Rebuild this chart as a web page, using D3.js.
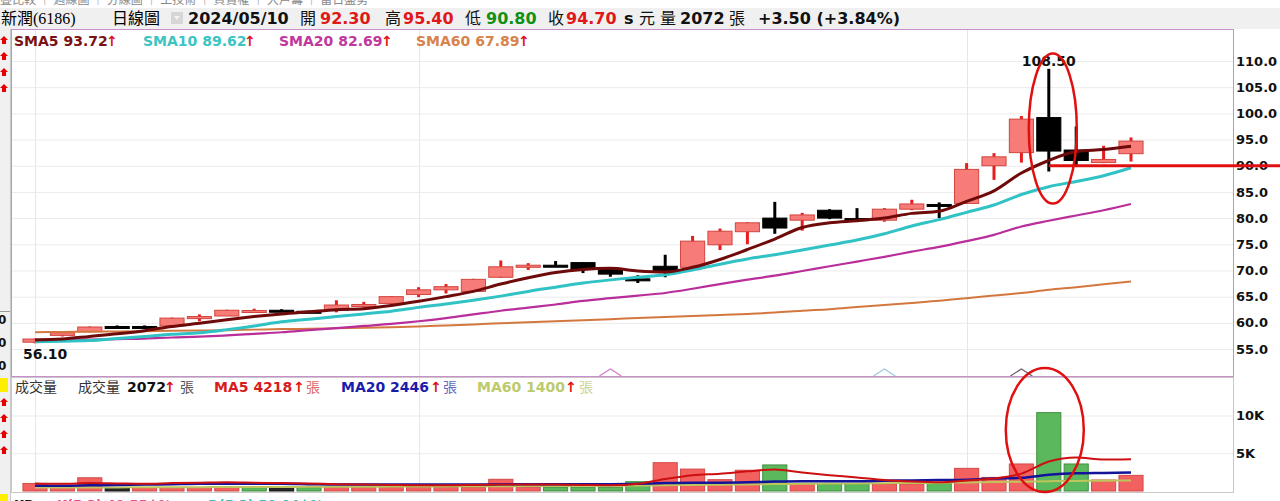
<!DOCTYPE html>
<html>
<head>
<meta charset="utf-8">
<script src="https://cdn.jsdelivr.net/npm/d3@7"></script>
<style>
  body { margin: 0; background: #fff; overflow: hidden; }
  svg { display: block; }
</style>
</head>
<body>
<div id="chart"></div>
<script>
// trading days shown, 2024/03/12 .. 2024/05/10
var dates = ["03/12","03/13","03/14","03/15","03/18","03/19","03/20","03/21","03/22","03/25",
  "03/26","03/27","03/28","03/29","04/01","04/02","04/03","04/08","04/09","04/10",
  "04/11","04/12","04/15","04/16","04/17","04/18","04/19","04/22","04/23","04/24",
  "04/25","04/26","04/29","04/30","05/02","05/03","05/06","05/07","05/08","05/09","05/10"];

var openP  = [56.3,57.6,58.3,59.3,59.3,59.4,60.8,61.3,62.2,62.4,62.2,62.4,63.1,63.7,65.4,66.3,66.0,68.7,70.6,71.0,
  71.5,70.2,68.4,70.8,70.6,74.9,77.4,80.0,79.6,81.5,79.9,79.6,81.7,82.6,82.8,90.0,92.5,99.2,93.0,90.6,92.3];
var highP  = [57.0,58.3,59.3,59.5,59.5,61.0,61.6,62.5,62.7,62.6,62.3,64.3,64.0,65.1,66.8,67.4,68.4,71.9,71.4,71.8,
  71.6,70.3,69.1,73.0,76.6,78.0,79.2,83.1,81.0,81.7,81.9,81.9,83.5,83.0,90.5,92.4,99.5,108.5,97.5,93.8,95.4];
var lowP   = [56.1,57.4,58.2,59.0,59.0,59.3,60.3,61.3,61.9,62.1,62.0,62.0,62.9,63.6,64.9,65.6,65.9,68.6,70.1,70.8,
  69.5,68.8,67.6,68.7,70.5,73.9,75.0,77.0,77.6,79.8,79.4,79.3,81.5,80.0,82.7,87.3,90.6,88.9,89.8,90.5,90.8];
var closeP = [56.9,58.1,59.2,59.2,59.2,60.9,61.2,62.4,62.35,62.3,62.1,63.4,63.5,65.0,66.3,66.9,68.3,70.7,71.0,70.9,
  70.2,69.3,68.2,69.9,75.6,77.5,79.1,78.1,80.6,80.0,79.7,81.7,82.7,82.4,89.3,91.7,98.9,92.8,91.0,91.2,94.7];

var sma5  = [56.7,56.9,57.4,57.9,58.5,59.3,59.9,60.6,61.2,61.7,62.1,62.5,62.7,63.3,64.1,65.0,66.0,67.4,68.6,69.6,
  70.2,70.4,69.9,69.7,70.6,72.1,74.0,76.0,78.2,79.1,79.5,80.0,80.9,81.3,83.2,85.2,88.6,91.0,92.7,93.1,93.72];
var sma10 = [56.4,56.5,56.6,57.0,57.4,57.8,58.1,58.7,59.4,60.2,60.7,61.2,61.7,62.2,62.95,63.6,64.3,65.1,66.0,66.8,
  67.6,68.2,68.7,69.2,70.1,71.2,72.2,73.0,73.9,74.85,75.8,77.0,78.5,79.7,81.1,82.5,84.5,86.0,87.0,88.1,89.62];
var sma20 = [56.6,56.7,56.8,56.9,57.0,57.2,57.35,57.6,57.9,58.2,58.6,59.0,59.4,59.8,60.3,60.9,61.6,62.3,62.9,63.5,
  64.2,64.7,65.2,65.7,66.5,67.4,68.25,69.0,69.9,70.8,71.7,72.6,73.6,74.5,75.6,76.8,78.4,79.5,80.5,81.5,82.69];
var sma60 = [58.2,58.25,58.3,58.35,58.4,58.5,58.55,58.6,58.7,58.8,58.85,58.95,59.05,59.15,59.3,59.5,59.7,59.9,60.1,60.3,
  60.5,60.7,60.9,61.1,61.3,61.5,61.7,61.95,62.3,62.6,63.0,63.4,63.8,64.2,64.7,65.2,65.7,66.3,66.8,67.35,67.89];

var volume = [1000,450,1750,450,450,450,450,450,450,450,450,500,500,500,500,500,500,1550,500,500,
  500,500,1230,3750,2900,1500,2750,3450,950,950,950,950,950,1000,3000,1800,3580,10380,3580,1460,2072];
// r = up day, g = down day, k = unchanged
var volColor = ["r","r","r","k","r","r","r","r","g","k","g","r","r","r","r","r","r","r","r","g",
  "g","g","g","r","r","r","r","g","r","g","g","r","r","g","r","r","r","g","g","r","r"];
var volMa5  = [1000,950,1050,1000,950,1050,1100,1150,1100,1050,1000,900,850,800,750,750,800,850,850,850,
  800,750,950,1600,2100,2300,2600,2850,2450,2100,1800,1450,1250,1150,1400,1650,2300,3900,4450,4160,4218];
var volMa20 = [700,700,750,800,850,900,950,950,950,950,900,850,850,850,850,850,850,900,900,900,
  900,900,950,1050,1100,1100,1150,1250,1300,1300,1300,1350,1400,1450,1500,1650,1750,2150,2350,2400,2446];
var volMa60 = [450,460,470,480,490,500,510,520,530,540,550,560,570,580,600,610,620,640,650,660,
  680,700,720,760,800,830,870,920,950,980,1000,1030,1060,1090,1140,1180,1230,1300,1340,1370,1400];

var priceTicks = [55,60,65,70,75,80,85,90,95,100,105,110];
var volTicks = [5000,10000];
var volTickLabels = ["5K","10K"];
var monthLines = [0,14,34];
var markers = [{i:21, color:"#d77bc8"}, {i:31, color:"#9cc8e0"}, {i:36, color:"#6a5a6a"}];

var W = 1280, H = 501;
var svg = d3.select("#chart").append("svg").attr("width", W).attr("height", H);

var num = "DejaVu Sans, Verdana, sans-serif";
var cjk = "Noto Sans CJK TC, sans-serif";

// page chrome
svg.append("rect").attr("x",0).attr("y",8).attr("width",W).attr("height",21).attr("fill","#f0f0f0");
svg.append("rect").attr("x",0).attr("y",29).attr("width",10).attr("height",H-29).attr("fill","#f0f0f0");
svg.append("line").attr("x1",10.5).attr("x2",10.5).attr("y1",29).attr("y2",H).attr("stroke","#c8c8c8");
svg.append("text").attr("x",0).attr("y",4).attr("font-family",cjk).attr("font-size",12).attr("fill","#888")
  .text("疊比較 │ 週線圖 │ 分線圖 │ 工技術 │ 買賣權 │ 大戶籌 │ 當日盤勢");

var x = d3.scaleBand().domain(d3.range(dates.length)).range([21.3, 1144.7]).paddingInner(0.12).paddingOuter(0.06);
function xc(i) { return x(i) + x.bandwidth() / 2; }
var y = d3.scaleLinear().domain([55, 110]).range([349, 61]);
var yv = d3.scaleLinear().domain([0, 10000]).range([491, 415.5]);

var left = 11, right = 1233;

// ---------- header ----------
var hdr = svg.append("text").attr("y", 24).attr("font-size", 16);
hdr.append("tspan").attr("x", 1).attr("font-family", cjk).text("新潤");
hdr.append("tspan").attr("font-family", "Liberation Serif, serif").text("(6186)");
svg.append("text").attr("x",112).attr("y",24).attr("font-family",cjk).attr("font-size",16).text("日線圖");
svg.append("rect").attr("x",171).attr("y",12).attr("width",12).attr("height",12).attr("fill","#d6d6d6");
svg.append("path").attr("d","M174,16 L180,16 L177,20 Z").attr("fill","#f4f4f4");

function htext(xp, t, col, bold, fam, size) {
  svg.append("text").attr("x", xp).attr("y", 24).attr("font-family", fam || num)
    .attr("font-size", size || 16).attr("font-weight", bold ? "bold" : "normal")
    .attr("fill", col).text(t);
}
htext(188, "2024/05/10", "#111", true);
htext(300, "開", "#111", false, cjk);
htext(320, "92.30", "#e01818", true);
htext(385, "高", "#111", false, cjk);
htext(403, "95.40", "#e01818", true);
htext(465, "低", "#111", false, cjk);
htext(486, "90.80", "#129012", true);
htext(548, "收", "#111", false, cjk);
htext(566, "94.70", "#e01818", true);
htext(624, "s", "#111", true);
htext(639, "元", "#111", false, cjk);
htext(660, "量", "#111", false, cjk);
htext(680, "2072", "#111", true);
htext(729, "張", "#111", false, cjk);
htext(758, "+3.50 (+3.84%)", "#111", true);

// ---------- price panel ----------
var price = svg.append("g");
price.append("rect").attr("x", left).attr("y", 29).attr("width", right - left).attr("height", 347).attr("fill", "#fff");

price.append("g").attr("transform", "translate(" + left + ",0)")
  .call(d3.axisLeft(y).tickValues(priceTicks).tickSize(-(right - left)).tickFormat(""))
  .call(function(g){ g.select(".domain").remove(); g.selectAll("line").attr("stroke", "#ebebeb"); });

price.selectAll("line.month").data(monthLines).enter().append("line")
  .attr("x1", function(d){ return Math.round(xc(d)) + 0.5; }).attr("x2", function(d){ return Math.round(xc(d)) + 0.5; })
  .attr("y1", 29).attr("y2", 376).attr("stroke", "#e6e6e6");

var candles = d3.range(dates.length).map(function(i){
  return { i: i, o: openP[i], h: highP[i], l: lowP[i], c: closeP[i] };
});
function up(d) { return d.c >= d.o; }

price.selectAll("line.wick").data(candles).enter().append("line")
  .attr("x1", function(d){ return xc(d.i); }).attr("x2", function(d){ return xc(d.i); })
  .attr("y1", function(d){ return y(d.h); }).attr("y2", function(d){ return y(d.l); })
  .attr("stroke", function(d){ return up(d) ? "#e81c1c" : "#000"; })
  .attr("stroke-width", 3);

price.selectAll("rect.body").data(candles).enter().append("rect")
  .attr("x", function(d){ return x(d.i); })
  .attr("width", x.bandwidth())
  .attr("y", function(d){ return y(Math.max(d.o, d.c)); })
  .attr("height", function(d){ return Math.max(2, Math.abs(y(d.o) - y(d.c))); })
  .attr("fill", function(d){ return up(d) ? "#f77b76" : "#000"; })
  .attr("stroke", function(d){ return up(d) ? "#d2453f" : "#000"; })
  .attr("stroke-width", 1);

var line = d3.line().x(function(d, i){ return xc(i); }).y(function(d){ return y(d); }).curve(d3.curveMonotoneX);
[[sma60, "#d4773f", 2], [sma20, "#b92e9b", 2.2], [sma10, "#30c2c4", 3], [sma5, "#6e0a0a", 3]].forEach(function(s){
  price.append("path").attr("d", line(s[0])).attr("fill", "none").attr("stroke", s[1]).attr("stroke-width", s[2]);
});

// small markers at panel bottom
price.selectAll("path.mk").data(markers).enter().append("path")
  .attr("d", function(d){ var c = xc(d.i); return "M" + (c - 11) + ",376 L" + c + ",369 L" + (c + 11) + ",376"; })
  .attr("fill", "none").attr("stroke", function(d){ return d.color; }).attr("stroke-width", 1.2);

price.append("rect").attr("x", left + 0.5).attr("y", 29.5).attr("width", right - left).attr("height", 347)
  .attr("fill", "none").attr("stroke", "#c98fcb");

// price axis
svg.append("g").attr("transform", "translate(1236,0)")
  .call(d3.axisRight(y).tickValues(priceTicks).tickSize(0).tickPadding(0).tickFormat(d3.format(".1f")))
  .call(function(g){
    g.select(".domain").remove();
    g.selectAll("text").attr("font-family", num).attr("font-size", 13).attr("font-weight", "bold").attr("fill", "#111");
  });

// high / low labels
var iHi = d3.maxIndex(highP), iLo = d3.minIndex(lowP);
svg.append("text").attr("x", xc(iHi)).attr("y", y(highP[iHi]) - 3).attr("text-anchor", "middle")
  .attr("font-family", num).attr("font-size", 14).attr("font-weight", "bold").attr("fill", "#111")
  .text(d3.format(".2f")(highP[iHi]));
svg.append("text").attr("x", x(iLo)).attr("y", y(lowP[iLo]) + 16)
  .attr("font-family", num).attr("font-size", 14).attr("font-weight", "bold").attr("fill", "#111")
  .text(d3.format(".2f")(lowP[iLo]));

// legends
function legend(yy, items) {
  items.forEach(function(it){
    var t = svg.append("text").attr("x", it[0]).attr("y", yy).attr("font-size", it[4] || 14);
    t.append("tspan").attr("font-family", it[3] ? cjk : num).attr("font-weight", it[3] ? "normal" : "bold")
      .attr("fill", it[2]).text(it[1]);
  });
}
legend(46, [
  [14, "SMA5 93.72", "#7a1212"], [106, "↑", "#e01010"],
  [143, "SMA10 89.62", "#3cc4c4"], [244, "↑", "#e01010"],
  [279, "SMA20 82.69", "#c0379d"], [381, "↑", "#e01010"],
  [416, "SMA60 67.89", "#d8834c"], [518, "↑", "#e01010"]
]);

// annotations
svg.append("line").attr("x1", xc(37)).attr("x2", W).attr("y1", y(90)).attr("y2", y(90))
  .attr("stroke", "#e01010").attr("stroke-width", 3);
svg.append("ellipse").attr("cx", xc(37) + 4).attr("cy", y(97.1)).attr("rx", 24).attr("ry", 75)
  .attr("fill", "none").attr("stroke", "#e01010").attr("stroke-width", 2.5);

// ---------- volume panel ----------
var vol = svg.append("g");
vol.append("g").attr("transform", "translate(" + left + ",0)")
  .call(d3.axisLeft(yv).tickValues(volTicks).tickSize(-(right - left)).tickFormat(""))
  .call(function(g){ g.select(".domain").remove(); g.selectAll("line").attr("stroke", "#ebebeb"); });
vol.selectAll("line.month").data(monthLines).enter().append("line")
  .attr("x1", function(d){ return Math.round(xc(d)) + 0.5; }).attr("x2", function(d){ return Math.round(xc(d)) + 0.5; })
  .attr("y1", 378).attr("y2", 492).attr("stroke", "#e6e6e6");

var fillV = { r: "#f36060", g: "#5cb85c", k: "#2a2a2a" };
var strokeV = { r: "#d24a46", g: "#3f8f3f", k: "#111" };
vol.selectAll("rect.v").data(volume).enter().append("rect")
  .attr("x", function(d, i){ return x(i); }).attr("width", x.bandwidth())
  .attr("y", function(d){ return yv(d); }).attr("height", function(d){ return yv(0) - yv(d); })
  .attr("fill", function(d, i){ return fillV[volColor[i]]; })
  .attr("stroke", function(d, i){ return strokeV[volColor[i]]; }).attr("stroke-width", 1);

var vline = d3.line().x(function(d, i){ return xc(i); }).y(function(d){ return yv(d); }).curve(d3.curveMonotoneX);
[[volMa60, "#bcc65c", 2], [volMa20, "#14149a", 2.5], [volMa5, "#cc1010", 2]].forEach(function(s){
  vol.append("path").attr("d", vline(s[0])).attr("fill", "none").attr("stroke", s[1]).attr("stroke-width", s[2]);
});

vol.append("rect").attr("x", left + 0.5).attr("y", 377.5).attr("width", right - left).attr("height", 115)
  .attr("fill", "none").attr("stroke", "#c8c8c8");

svg.append("g").attr("transform", "translate(1236,0)")
  .call(d3.axisRight(yv).tickValues(volTicks).tickSize(0).tickPadding(0)
    .tickFormat(function(d, i){ return volTickLabels[i]; }))
  .call(function(g){
    g.select(".domain").remove();
    g.selectAll("text").attr("font-family", num).attr("font-size", 13).attr("font-weight", "bold").attr("fill", "#111");
  });

legend(392, [
  [15, "成交量", "#333", true], [78, "成交量", "#333", true],
  [127, "2072", "#111"], [164, "↑", "#e01010"], [180, "張", "#555", true],
  [214, "MA5 4218", "#d81b1b"], [293, "↑", "#e01010"], [306, "張", "#e06a6a", true],
  [341, "MA20 2446", "#1c1caa"], [430, "↑", "#e01010"], [443, "張", "#6a6ac4", true],
  [477, "MA60 1400", "#bccb6c"], [565, "↑", "#e01010"], [579, "張", "#ccd49a", true]
]);

svg.append("ellipse").attr("cx", xc(37) - 4).attr("cy", 430).attr("rx", 39).attr("ry", 62)
  .attr("fill", "none").attr("stroke", "#e01010").attr("stroke-width", 2.5);

// ---------- side bar ----------
function arrow(yy) {
  svg.append("path").attr("transform", "translate(0," + yy + ")")
    .attr("d", "M4,0 L8,4 L6,4 L6,8 L2,8 L2,4 L0,4 Z").attr("fill", "#e80000");
}
[36, 52, 68, 84, 398, 414, 430, 446].forEach(arrow);
svg.append("rect").attr("x", 0).attr("y", 378).attr("width", 8).attr("height", 14).attr("fill", "#ffee00");
svg.append("rect").attr("x", 0).attr("y", 494).attr("width", 8).attr("height", 7).attr("fill", "#ffee00");
svg.append("line").attr("x1", 0).attr("x2", 10).attr("y1", 311.5).attr("y2", 311.5).attr("stroke", "#999");
[324, 347, 370].forEach(function(yy){
  svg.append("text").attr("x", -2).attr("y", yy).attr("font-family", num).attr("font-size", 12)
    .attr("font-weight", "bold").attr("fill", "#111").text("0");
});

// ---------- KD row (cut off) ----------
svg.append("text").attr("x", 14).attr("y", 509).attr("font-family", num).attr("font-size", 13)
  .attr("font-weight", "bold").attr("fill", "#111").text("KD");
svg.append("text").attr("x", 57).attr("y", 509).attr("font-family", num).attr("font-size", 13)
  .attr("font-weight", "bold").attr("fill", "#e0508c").text("K(5,3) 40.55↓%");
svg.append("text").attr("x", 208).attr("y", 509).attr("font-family", num).attr("font-size", 13)
  .attr("font-weight", "bold").attr("fill", "#3cb8c0").text("D(5,3) 50.04↓%");
</script>
</body>
</html>
